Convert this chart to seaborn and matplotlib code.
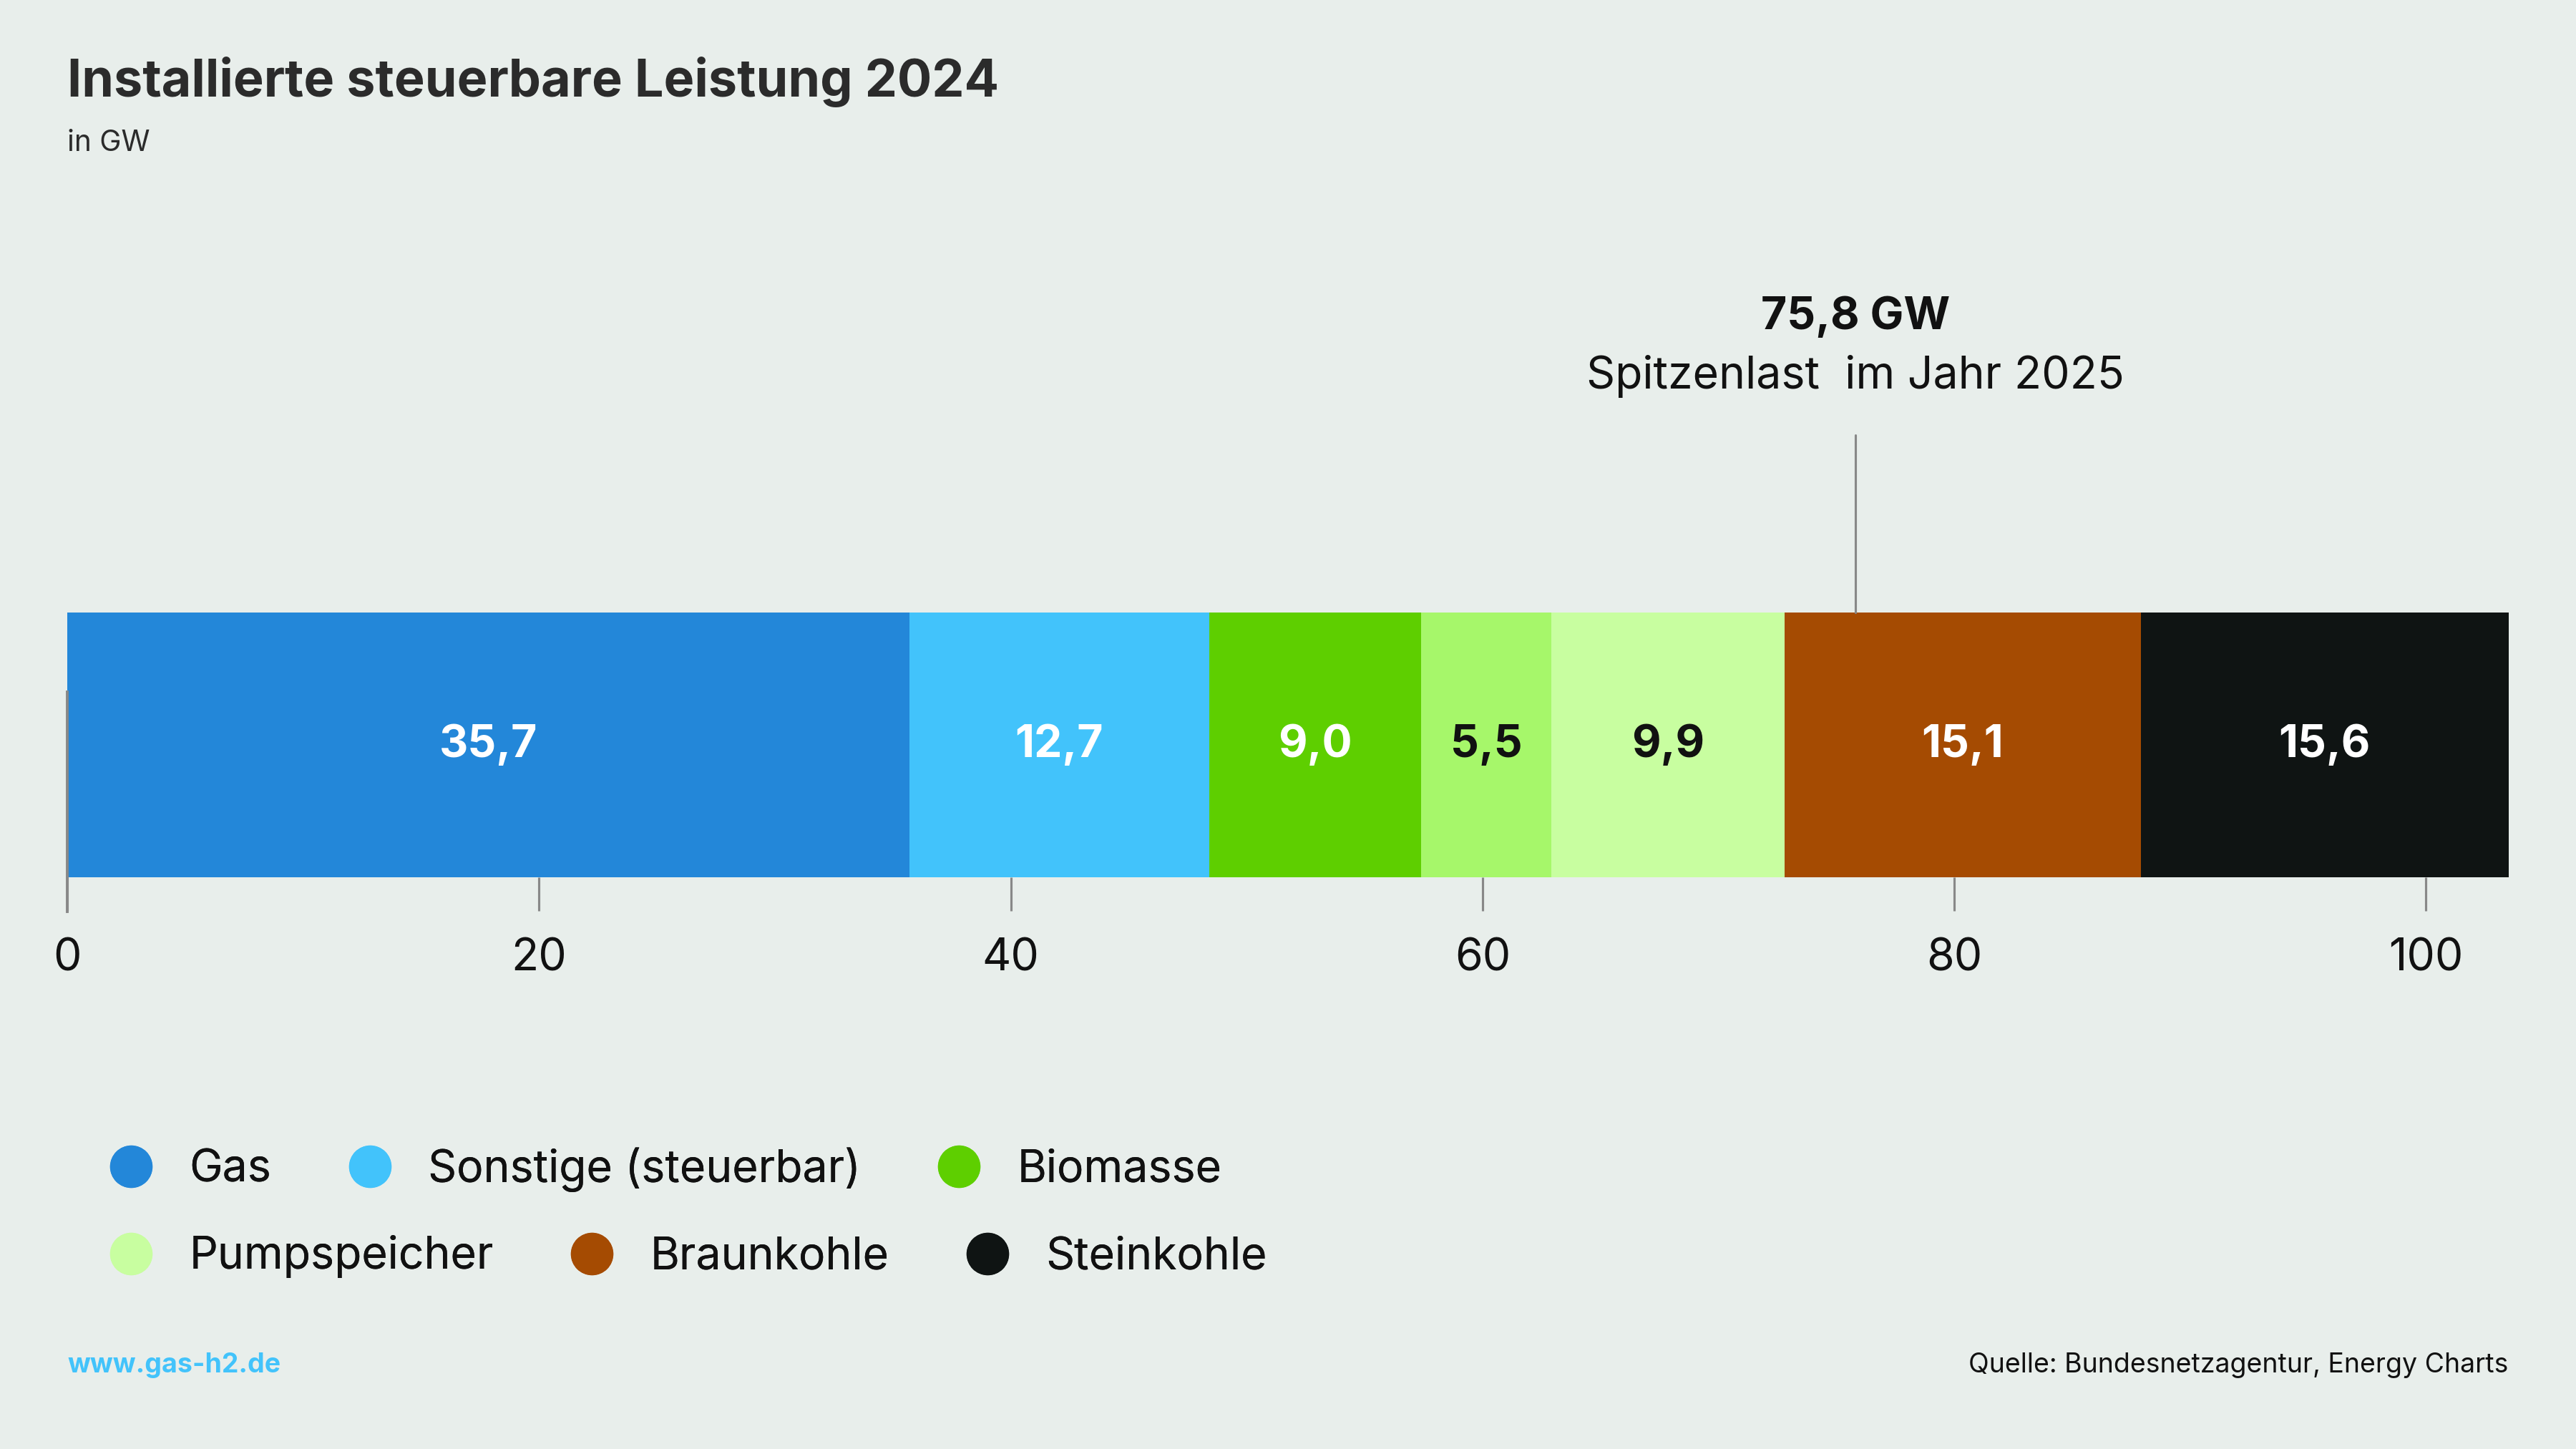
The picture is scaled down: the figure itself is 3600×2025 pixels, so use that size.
import numpy as np
import matplotlib.pyplot as plt
import seaborn as sns
from matplotlib.lines import Line2D

categories = ["Gas", "Sonstige (steuerbar)", "Biomasse", "Wasserkraft", "Pumpspeicher", "Braunkohle", "Steinkohle"]
values = [35.7, 12.7, 9.0, 5.5, 9.9, 15.1, 15.6]
labels = ["35,7", "12,7", "9,0", "5,5", "9,9", "15,1", "15,6"]
colors = ["#2387d9", "#42c3fb", "#5ecf00", "#a6f76a", "#c8fea0", "#a54b02", "#0f1413"]
label_colors = ["white", "white", "white", "#111111", "#111111", "white", "white"]
legend_rows = [["Gas", "Sonstige (steuerbar)", "Biomasse"], ["Pumpspeicher", "Braunkohle", "Steinkohle"]]
ticks = [0, 20, 40, 60, 80, 100]
peak = 75.8

bg = "#e8eeeb"
sns.set_theme(style="white")
plt.rcParams["font.family"] = ["Inter", "DejaVu Sans"]

fig = plt.figure(figsize=(16, 9), dpi=225, facecolor=bg)
W, H = 1568, 882
ax = fig.add_axes([41 / W, 1 - 534 / H, (1527 - 41) / W, (534 - 373) / H])
ax.set_facecolor(bg)

left = np.concatenate([[0], np.cumsum(values)[:-1]])
ax.barh([0] * len(values), values, left=left, height=1.0, color=colors, linewidth=0)
for l, v, t, c in zip(left, values, labels, label_colors):
    ax.text(l + v / 2, 0, t, ha="center", va="center", color=c, fontsize=20, fontweight="bold")

ax.set_xlim(0, sum(values))
ax.set_ylim(-0.5, 0.5)
ax.set_yticks([])
ax.set_xticks(ticks)
ax.set_xticklabels([str(t) for t in ticks], fontsize=20, color="#111111")
ax.tick_params(axis="x", length=15, width=1, color="#888888", pad=12, bottom=True, direction="out")
for s in ["top", "right", "bottom"]:
    ax.spines[s].set_visible(False)
ax.spines["left"].set_color("#888888")
ax.spines["left"].set_bounds(-0.5 - 21 / 161, 0.2)

ax.plot([peak, peak], [0.5, 0.5 + 108 / 161], color="#888888", lw=1, clip_on=False)
ax.text(peak, 0.5 + (373 - 193) / 161, "75,8 GW", ha="center", va="center", fontsize=20, fontweight="bold", color="#111111")
ax.text(peak, 0.5 + (373 - 229) / 161, "Spitzenlast  im Jahr 2025", ha="center", va="center", fontsize=20, color="#111111")

fig.text(41 / W, 1 - 50 / H, "Installierte steuerbare Leistung 2024", fontsize=23, fontweight="bold", color="#2b2b2b", va="center")
fig.text(41 / W, 1 - 87 / H, "in GW", fontsize=13, color="#2b2b2b", va="center")

cmap = dict(zip(categories, colors))
for i, row in enumerate(legend_rows):
    handles = [Line2D([], [], marker="o", ls="", markersize=19, markerfacecolor=cmap[n], markeredgewidth=0) for n in row]
    leg = fig.legend(handles, row, loc="center left", bbox_to_anchor=(28 / W, 1 - (712 + 53 * i) / H),
                     ncol=3, frameon=False, fontsize=20, handletextpad=0.3, columnspacing=1.2, labelcolor="#111111")
    fig.add_artist(leg)

fig.text(41 / W, 1 - 831 / H, "www.gas-h2.de", fontsize=12, fontweight="bold", color="#42c3fb", va="center")
fig.text(1527 / W, 1 - 831 / H, "Quelle: Bundesnetzagentur, Energy Charts", fontsize=12, color="#111111", va="center", ha="right")

fig.savefig("out.png", dpi=225, facecolor=bg)
